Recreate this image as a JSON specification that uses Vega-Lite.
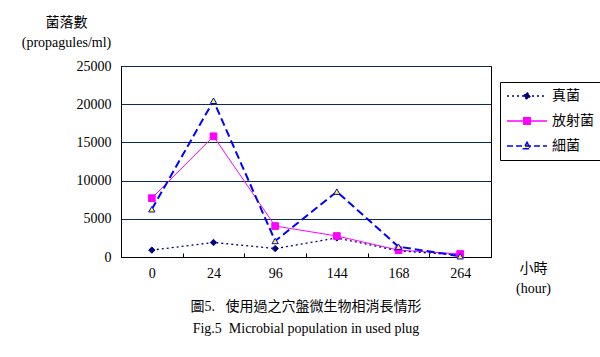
{
  "$schema": "https://vega.github.io/schema/vega-lite/v6.json",
  "autosize": {"type": "none"},
  "width": 370,
  "height": 191,
  "padding": {"left": 121, "top": 66, "right": 109, "bottom": 100},
  "background": "white",
  "config": {
    "view": {"stroke": "black", "strokeWidth": 1},
    "font": "Liberation Serif, Noto Sans CJK TC"
  },
  "title": {
    "text": ["圖5.\u00a0\u00a0\u00a0使用過之穴盤微生物相消長情形", "Fig.5\u00a0\u00a0Microbial population in used plug"],
    "orient": "bottom",
    "anchor": "middle",
    "frame": "group",
    "font": "Liberation Serif, Noto Sans CJK TC",
    "fontSize": 14,
    "fontWeight": "normal",
    "lineHeight": 22,
    "offset": 5,
    "color": "black"
  },
  "data": {
    "values": [
      {"hour": "0", "series": "真菌", "value": 900},
      {"hour": "24", "series": "真菌", "value": 1900},
      {"hour": "96", "series": "真菌", "value": 1100},
      {"hour": "144", "series": "真菌", "value": 2500},
      {"hour": "168", "series": "真菌", "value": 800},
      {"hour": "264", "series": "真菌", "value": 250},
      {"hour": "0", "series": "放射菌", "value": 7700},
      {"hour": "24", "series": "放射菌", "value": 15800},
      {"hour": "96", "series": "放射菌", "value": 4050},
      {"hour": "144", "series": "放射菌", "value": 2750},
      {"hour": "168", "series": "放射菌", "value": 900},
      {"hour": "264", "series": "放射菌", "value": 400},
      {"hour": "0", "series": "細菌", "value": 6250},
      {"hour": "24", "series": "細菌", "value": 20450},
      {"hour": "96", "series": "細菌", "value": 2100},
      {"hour": "144", "series": "細菌", "value": 8550},
      {"hour": "168", "series": "細菌", "value": 1350},
      {"hour": "264", "series": "細菌", "value": 100}
    ]
  },
  "encoding": {
    "x": {
      "field": "hour",
      "type": "ordinal",
      "sort": ["0", "24", "96", "144", "168", "264"],
      "scale": {"type": "band", "paddingInner": 0, "paddingOuter": 0},
      "axis": {
        "title": ["小時", "(hour)"],
        "titleX": 412,
        "titleY": 4,
        "titleAlign": "center",
        "titleBaseline": "top",
        "titleAngle": 0,
        "titleFont": "Liberation Serif, Noto Sans CJK TC",
        "titleFontSize": 14,
        "titleFontWeight": "normal",
        "titleLineHeight": 20,
        "titleColor": "black",
        "labelAngle": 0,
        "labelFont": "Liberation Serif",
        "labelFontSize": 14,
        "labelColor": "black",
        "labelPadding": 13,
        "labelBaseline": "top",
        "tickBand": "extent",
        "tickSize": -4,
        "tickColor": "black",
        "domainColor": "black",
        "grid": false
      }
    },
    "y": {
      "field": "value",
      "type": "quantitative",
      "scale": {"domain": [0, 25000], "nice": false},
      "axis": {
        "values": [0, 5000, 10000, 15000, 20000, 25000],
        "format": "d",
        "title": ["菌落數", "(propagules/ml)"],
        "titleX": -55,
        "titleY": -51,
        "titleAlign": "center",
        "titleBaseline": "top",
        "titleAngle": 0,
        "titleFont": "Liberation Serif, Noto Sans CJK TC",
        "titleFontSize": 14,
        "titleFontWeight": "normal",
        "titleLineHeight": 20,
        "titleColor": "black",
        "labelFont": "Liberation Serif",
        "labelFontSize": 14,
        "labelColor": "black",
        "labelPadding": 10,
        "ticks": false,
        "domainColor": "black",
        "grid": true,
        "gridColor": "#0b2a5a",
        "gridWidth": 1
      }
    }
  },
  "layer": [
    {
      "transform": [{"filter": "datum.series === '放射菌'"}],
      "mark": {"type": "line", "stroke": "#FF00FF", "strokeWidth": 1}
    },
    {
      "transform": [{"filter": "datum.series === '真菌'"}],
      "mark": {"type": "line", "stroke": "#000080", "strokeWidth": 1.3, "strokeDash": [2, 3]}
    },
    {
      "transform": [{"filter": "datum.series === '細菌'"}],
      "mark": {"type": "line", "stroke": "#0000FF", "strokeWidth": 2, "strokeDash": [8, 4]}
    },
    {
      "transform": [{"filter": "datum.series === '真菌'"}],
      "mark": {"type": "point", "shape": "diamond", "filled": true, "fill": "#000080", "stroke": "#000080", "strokeWidth": 1, "size": 40, "opacity": 1}
    },
    {
      "transform": [{"filter": "datum.series === '放射菌'"}],
      "mark": {"type": "point", "shape": "square", "filled": true, "fill": "#FF00FF", "stroke": "#FF00FF", "strokeWidth": 1, "size": 45, "opacity": 1}
    },
    {
      "transform": [{"filter": "datum.series === '細菌'"}],
      "mark": {"type": "point", "shape": "triangle-up", "filled": true, "fill": "#FFFF00", "stroke": "#0000FF", "strokeWidth": 1, "size": 40, "opacity": 1}
    },
    {
      "mark": {"type": "point", "filled": true, "opacity": 0},
      "encoding": {
        "shape": {
          "field": "series",
          "scale": {"domain": ["真菌", "放射菌", "細菌"], "range": [
            "M-1,0L1,0M0,-0.17L0.17,0L0,0.17L-0.17,0Z",
            "M-1,0L1,0M-0.16,-0.16L0.16,-0.16L0.16,0.16L-0.16,0.16Z",
            "M-1,0L1,0M0,-0.18L0.18,0.14L-0.18,0.14Z"
          ]},
          "legend": {
            "title": null,
            "orient": "none",
            "legendX": 379,
            "legendY": 16,
            "strokeColor": "black",
            "padding": 6,
            "symbolSize": 1600,
            "symbolStrokeWidth": 1.5,
            "symbolOpacity": 1,
            "clipHeight": 16,
            "rowPadding": 9,
            "labelFont": "Noto Sans CJK TC",
            "labelFontSize": 14,
            "labelColor": "black",
            "labelOffset": 4
          }
        },
        "fill": {
          "field": "series",
          "scale": {"domain": ["真菌", "放射菌", "細菌"], "range": ["#000080", "#FF00FF", "#FFFF00"]}
        },
        "stroke": {
          "field": "series",
          "scale": {"domain": ["真菌", "放射菌", "細菌"], "range": ["#000080", "#FF00FF", "#0000FF"]}
        },
        "strokeDash": {
          "field": "series",
          "scale": {"domain": ["真菌", "放射菌", "細菌"], "range": [[2, 3], [1, 0], [6, 3]]}
        }
      }
    }
  ]
}
